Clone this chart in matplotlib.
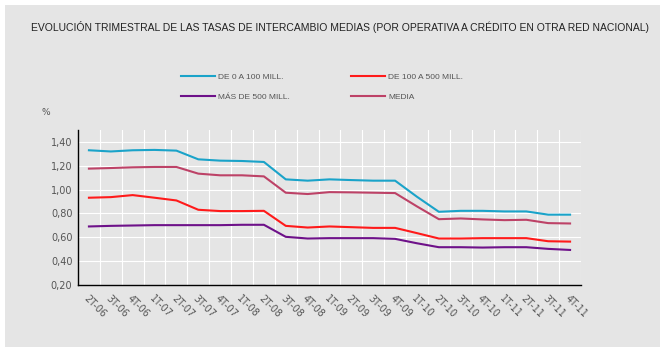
import numpy as np
import matplotlib.pyplot as plt
from matplotlib.patches import Rectangle
from matplotlib.ticker import FuncFormatter

trimestres = ['2T-06', '3T-06', '4T-06',
              '1T-07', '2T-07', '3T-07', '4T-07',
              '1T-08', '2T-08', '3T-08', '4T-08',
              '1T-09', '2T-09', '3T-09', '4T-09',
              '1T-10', '2T-10', '3T-10', '4T-10',
              '1T-11', '2T-11', '3T-11', '4T-11']

de_0_a_100 = [1.33, 1.32, 1.33, 1.333, 1.327, 1.254, 1.243, 1.24, 1.232,
              1.086, 1.075, 1.086, 1.08, 1.075, 1.075,
              0.94, 0.814, 0.822, 0.822, 0.817, 0.817, 0.79, 0.79]
de_100_a_500 = [0.932, 0.937, 0.954, 0.932, 0.909, 0.831, 0.82, 0.82, 0.822,
                0.696, 0.682, 0.691, 0.685, 0.679, 0.679,
                0.635, 0.59, 0.59, 0.593, 0.593, 0.593, 0.567, 0.564]
mas_de_500 = [0.691, 0.696, 0.699, 0.702, 0.702, 0.702, 0.702, 0.705, 0.705,
              0.604, 0.59, 0.593, 0.593, 0.593, 0.587,
              0.55, 0.517, 0.517, 0.514, 0.517, 0.517, 0.503, 0.494]
media = [1.176, 1.181, 1.187, 1.19, 1.19, 1.134, 1.12, 1.12, 1.111,
         0.974, 0.963, 0.979, 0.977, 0.974, 0.971,
         0.859, 0.752, 0.758, 0.75, 0.744, 0.747, 0.719, 0.716]

fondo = '#e5e5e5'
gris = '#555555'

fig = plt.figure(figsize=(6.6, 3.47), dpi=100, facecolor='white')
# panel gris con margen blanco arriba e izquierda
fig.patches.append(Rectangle((5 / 660, 0), 1, 1 - 5 / 347, transform=fig.transFigure,
                             facecolor=fondo, edgecolor='none', zorder=-10))

ax = fig.add_axes([78 / 660, 1 - 285 / 347, 503 / 660, 155 / 347])
ax.set_facecolor(fondo)

x = np.arange(len(trimestres))
l1, = ax.plot(x, de_0_a_100, color='#1aa3c9', lw=1.5, label='DE 0 A 100 MILL.')
l2, = ax.plot(x, de_100_a_500, color='#ff1a1a', lw=1.5, label='DE 100 A 500 MILL.')
l3, = ax.plot(x, mas_de_500, color='#6e1189', lw=1.5, label='MÁS DE 500 MILL.')
l4, = ax.plot(x, media, color='#bd4267', lw=1.5, label='MEDIA')

ax.set_xlim(-0.5, len(trimestres) - 0.5)
ax.set_ylim(0.2, 1.5)
ax.set_yticks(np.arange(0.2, 1.41, 0.2))
ax.yaxis.set_major_formatter(FuncFormatter(lambda v, p: f'{v:.2f}'.replace('.', ',')))

# rejilla blanca entre categorías
for b in np.arange(0.5, len(trimestres), 1.0):
    ax.axvline(b, color='white', lw=0.8, zorder=0.5)
for v in np.arange(0.2, 1.41, 0.2):
    ax.axhline(v, color='white', lw=0.8, zorder=0.5)

ax.set_xticks(x)
ax.set_xticklabels(trimestres, rotation=-45, ha='left', va='top',
                   rotation_mode='anchor', fontsize=7, color=gris)
ax.tick_params(axis='x', length=0, pad=6)
ax.tick_params(axis='y', length=0, pad=4, labelsize=7, labelcolor=gris)

for s in ['top', 'right']:
    ax.spines[s].set_visible(False)
for s in ['left', 'bottom']:
    ax.spines[s].set_color('black')
    ax.spines[s].set_linewidth(1.0)

fig.text(31 / 660, 1 - 27 / 347, 'EVOLUCIÓN TRIMESTRAL DE LAS TASAS DE INTERCAMBIO MEDIAS '
         '(POR OPERATIVA A CRÉDITO EN OTRA RED NACIONAL)',
         fontsize=7.45, color='#222222', va='center', ha='left',
         family=['Liberation Sans', 'DejaVu Sans'])
fig.text(42 / 660, 1 - 113 / 347, '%', fontsize=6.5, color=gris, va='center', ha='left')

leg = fig.legend(handles=[l1, l3, l2, l4], ncol=2, loc='center left',
                 bbox_to_anchor=(177 / 660, 1 - 87 / 347), frameon=False,
                 borderpad=0, handlelength=4.1, handletextpad=0.35,
                 columnspacing=7.3, labelspacing=1.5,
                 prop={'family': ['Liberation Sans Narrow', 'Liberation Sans'], 'size': 6})
for t in leg.get_texts():
    t.set_color(gris)

fig.savefig('out.png', dpi=100, facecolor=fig.get_facecolor())
